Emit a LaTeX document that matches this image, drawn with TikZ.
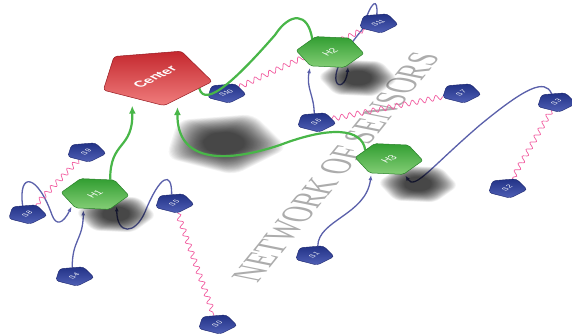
\documentclass[tikz,border=0pt]{standalone}
\usepackage{fontspec}
\setmainfont{Liberation Serif}
\setsansfont{Liberation Sans}
\usetikzlibrary{shapes.geometric,arrows.meta,decorations.pathmorphing}

\definecolor{hubred}{RGB}{196,40,46}
\definecolor{hubredlight}{RGB}{240,125,125}
\definecolor{hubredline}{RGB}{150,25,32}
\definecolor{chgreen}{RGB}{50,158,50}
\definecolor{chgreenlight}{RGB}{132,206,118}
\definecolor{chgreenline}{RGB}{38,128,38}
\definecolor{sensblue}{RGB}{34,50,134}
\definecolor{sensbluelight}{RGB}{80,96,182}
\definecolor{sensblueline}{RGB}{26,36,108}
\definecolor{uplink}{RGB}{72,182,72}
\definecolor{sensorlink}{RGB}{90,96,170}
\definecolor{radiolink}{RGB}{242,92,160}
\definecolor{titlegray}{RGB}{172,172,172}

\pgfdeclarelayer{paper}
\pgfdeclarelayer{title}
\pgfdeclarelayer{sensorlinks}
\pgfdeclarelayer{radio}
\pgfdeclarelayer{shadows}
\pgfdeclarelayer{sensors}
\pgfdeclarelayer{uplinks}
\pgfsetlayers{paper,title,sensorlinks,radio,shadows,sensors,uplinks,main}

\tikzset{
  ground/.style={yslant=0.5,xslant=-1},
  sensor/.style={ground, regular polygon, regular polygon sides=5,
    minimum size=29pt, inner sep=0pt, draw=sensblueline, line width=0.4pt,
    top color=sensblue, bottom color=sensbluelight, rounded corners=3pt,
    text=white, font=\sffamily\fontsize{6.3}{6.3}\selectfont},
  clusterhead/.style={ground, regular polygon, regular polygon sides=6,
    shape border rotate=10, minimum size=48pt, inner sep=0pt,
    draw=chgreenline, line width=0.5pt, top color=chgreen,
    bottom color=chgreenlight, rounded corners=2pt,
    text=white, font=\sffamily\fontsize{9}{9}\selectfont},
  hub/.style={ground, regular polygon, regular polygon sides=5,
    minimum size=82pt, inner sep=0pt, draw=hubredline, line width=0.5pt,
    top color=hubred, bottom color=hubredlight, rounded corners=3pt,
    text=white, font=\sffamily\bfseries\fontsize{12}{12}\selectfont},
  title/.style={ground, rotate=23, inner sep=0pt, text=titlegray,
    font=\rmfamily\fontsize{31}{31}\selectfont},
  uplinkline/.style={draw=uplink, line width=2.2pt,
    -{Latex[length=8pt,width=7pt]}, shorten >=8pt},
  sensorline/.style={draw=sensorlink, line width=1.3pt,
    -{Latex[length=5pt,width=4pt]}, shorten >=2pt},
  radioline/.style={draw=radiolink, line width=0.7pt,
    decorate, decoration={snake, amplitude=2.6pt, segment length=8pt}},
  shadowfill/.style={fill=black, opacity=0.04},
}

\begin{document}
\begin{tikzpicture}[x=1pt,y=1pt]
  \useasboundingbox (0,0) rectangle (572,-336);
  \begin{pgfonlayer}{paper}
    \fill[white] (0,0) rectangle (572,-336);
  \end{pgfonlayer}

  % title lying on the ground plane
  \begin{pgfonlayer}{title}
    \node[title] (title) at (336,-167) {NETWORK OF SENSORS};
  \end{pgfonlayer}

  % sensors
  \begin{pgfonlayer}{sensors}
    \node[sensor] (S0)  at (217,-324) {S0};
    \node[sensor] (S1)  at (314,-255) {S1};
    \node[sensor] (S2)  at (507,-188) {S2};
    \node[sensor] (S3)  at (556,-102) {S3};
    \node[sensor] (S4)  at (74,-276)  {S4};
    \node[sensor] (S5)  at (174,-203) {S5};
    \node[sensor] (S6)  at (316,-122) {S6};
    \node[sensor] (S7)  at (461,-93)  {S7};
    \node[sensor] (S8)  at (27,-214)  {S8};
    \node[sensor] (S9)  at (86,-152)  {S9};
    \node[sensor] (S10) at (226,-93)  {S10};
    \node[sensor] (S11) at (378,-23)  {S11};
  \end{pgfonlayer}

  % cluster heads and the sink
  \node[clusterhead] (H1) at (95,-194)  {H1};
  \node[clusterhead] (H2) at (330,-52)  {H2};
  \node[clusterhead] (H3) at (389,-159) {H3};
  \node[hub] (Center) at (155,-77) {Center};

  % soft shadows cast on the ground plane: many faint, shrinking copies
  \begin{pgfonlayer}{shadows}
    \foreach \s in {1.15,1.125,...,0.44} {
      \fill[shadowfill, shift={(224,-143)}, ground, scale=\s, rounded corners=10pt]
        (90:40) -- (162:40) -- (234:40) -- (306:40) -- (18:40) -- cycle;
      \foreach \p in {(116,-214),(358,-78),(418,-184)}
        \fill[shadowfill, shift={\p}, ground, scale=\s, rounded corners=6pt]
          (10:25) -- (70:25) -- (130:25) -- (190:25) -- (250:25) -- (310:25) -- cycle;
    }
  \end{pgfonlayer}

  % sensor to cluster-head links
  \begin{pgfonlayer}{sensorlinks}
    \draw[sensorline] (S8.60) .. controls (18,-170) and (38,-175) .. (52,-215)
      .. controls (56,-226) and (63,-224) .. (H1.179);
    \draw[sensorline] (S4.51) .. controls (72,-240) and (83,-240) .. (H1.203);
    \draw[sensorline] (S5.53) .. controls (172,-170) and (160,-175) .. (145,-212)
      .. controls (135,-235) and (117,-235) .. (H1.271);
    \draw[sensorline] (S6.51) .. controls (314,-95) and (306,-88) .. (H2.190);
    \draw[sensorline] (S11.49) .. controls (378,2) and (372,2) .. (362,-30)
      .. controls (315,-85) and (345,-98) .. (H2.260);
    \draw[sensorline] (S1.33) .. controls (318,-220) and (366,-215) .. (H3.193);
    \draw[sensorline] (S3.60) .. controls (545,-78) and (525,-88) .. (480,-125)
      .. controls (430,-168) and (415,-190) .. (H3.252);
  \end{pgfonlayer}

  % radio links between sensors
  \begin{pgfonlayer}{radio}
    \draw[radioline] (S9) -- (S8);
    \draw[radioline] (S5) -- (S0);
    \draw[radioline] (S10) -- (S11);
    \draw[radioline] (S6) -- (S7);
    \draw[radioline] (S3) -- (S2);
  \end{pgfonlayer}

  % cluster-head to sink links
  \begin{pgfonlayer}{uplinks}
    \draw[uplinkline] (H1.17) .. controls (110,-140) and (133,-150) .. (Center.196);
    \draw[uplinkline] (H3.98) .. controls (362,-128) and (330,-126) .. (280,-145)
      .. controls (220,-165) and (177,-160) .. (Center.252);
    \draw[uplinkline, -, shorten >=0pt] (H2.79) .. controls (308,-12) and (290,-12) .. (275,-35)
      .. controls (240,-75) and (205,-110) .. (Center.288);
  \end{pgfonlayer}
\end{tikzpicture}
\end{document}
